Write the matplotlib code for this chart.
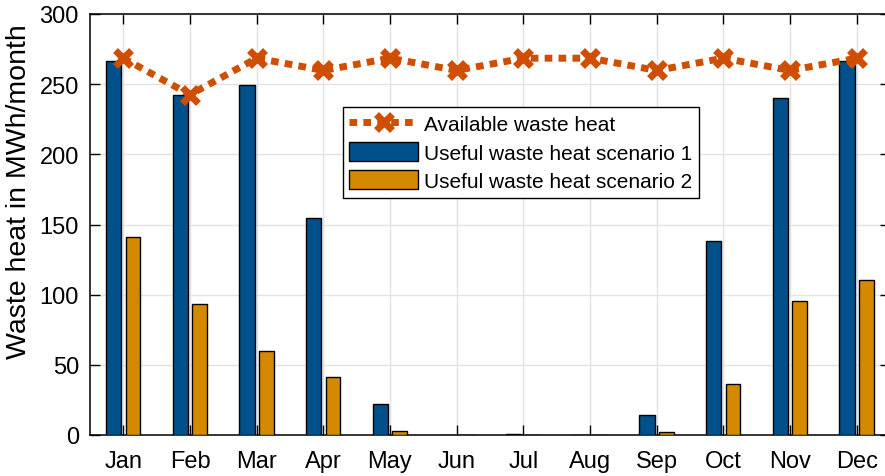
import numpy as np
import matplotlib.pyplot as plt
from matplotlib.patches import Patch
from matplotlib.lines import Line2D

plt.rcParams['font.family'] = ['Liberation Sans', 'DejaVu Sans']

months = ['Jan', 'Feb', 'Mar', 'Apr', 'May', 'Jun', 'Jul', 'Aug', 'Sep', 'Oct', 'Nov', 'Dec']
available = [268.5, 242.5, 268.5, 259.8, 268.5, 259.8, 268.5, 268.5, 259.8, 268.5, 259.8, 268.5]
scenario1 = [266.3, 242.1, 249.2, 154.4, 22.1, 0.3, 0.8, 0.2, 14.5, 138.0, 240.0, 266.7]
scenario2 = [141.3, 93.4, 60.0, 41.0, 2.6, 0.0, 0.2, 0.0, 2.1, 36.0, 95.7, 110.7]

c_line = '#D04E00'
c_blue = '#00508C'
c_orange = '#D48900'

fig = plt.figure(figsize=(8.85, 4.77), dpi=100)
ax = fig.add_axes([90/885, 41/477, 800/885, 421/477])

x = np.arange(1, 13)
ax.bar(x - 0.147, scenario1, width=0.23, color=c_blue, edgecolor='black', linewidth=1, zorder=3)
ax.bar(x + 0.147, scenario2, width=0.22, color=c_orange, edgecolor='black', linewidth=1, zorder=3)
ax.plot(x, available, linestyle=(0, (1.1, 0.9)), color=c_line, linewidth=5,
        marker='x', markersize=12, markeredgewidth=5, zorder=4)

ax.set_xlim(0.5, 12.5)
ax.set_ylim(0, 300)
ax.set_xticks(x)
ax.set_xticklabels(months)
ax.set_yticks(np.arange(0, 301, 50))
ax.tick_params(direction='in', length=7, width=1, top=True, right=True, labelsize=17)
ax.tick_params(axis='x', pad=11)
ax.tick_params(axis='y', pad=8)
ax.grid(True, color='#E3E3E3', linewidth=1, zorder=0)
ax.set_axisbelow(True)
for s in ax.spines.values():
    s.set_linewidth(1.1)
ax.set_ylabel('Waste heat in MWh/month', fontsize=20.5)
ax.yaxis.set_label_coords(-0.073, 0.58)

handles = [
    Line2D([0], [0], linestyle=(0, (1.1, 0.9)), color=c_line, linewidth=5,
           marker='x', markersize=12, markeredgewidth=5),
    Patch(facecolor=c_blue, edgecolor='black', linewidth=1),
    Patch(facecolor=c_orange, edgecolor='black', linewidth=1),
]
labels = ['Available waste heat', 'Useful waste heat scenario 1', 'Useful waste heat scenario 2']
leg = ax.legend(handles, labels, loc='upper left', bbox_to_anchor=(0.316, 0.779),
                borderaxespad=0, fontsize=15, fancybox=False, framealpha=1,
                edgecolor='black', handlelength=3.3, handleheight=1.0,
                handletextpad=0.3, labelspacing=0.38, borderpad=0.32)
leg.get_frame().set_linewidth(1)

fig.savefig('out.png', dpi=100)
